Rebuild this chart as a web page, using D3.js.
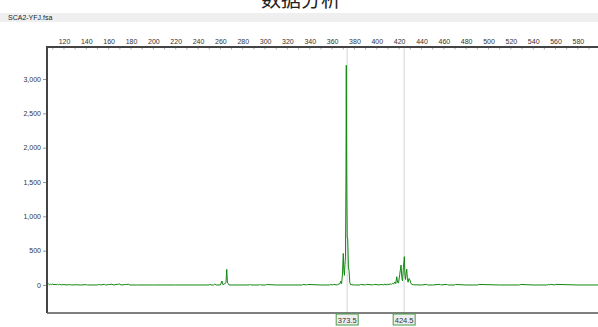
<!DOCTYPE html>
<html>
<head>
<meta charset="utf-8">
<script src="https://cdn.jsdelivr.net/npm/d3@7"></script>
<style>
  body { margin: 0; background: #fff; }
  svg { display: block; font-family: "Liberation Sans", Arial, sans-serif; }
</style>
</head>
<body>
<div class="svg"></div>
<script>
// electropherogram trace: fragment size (bp) and signal (RFU)
var traceSize = [105, 106, 107, 108, 109, 110, 111, 112, 113, 114, 115, 116, 118, 120, 122, 125, 127, 130, 135, 140, 141, 150,
  152, 153, 156, 157, 160, 163, 164, 168, 170, 171, 175, 178, 179, 185, 200, 220, 240, 250, 250.7, 251.5, 254, 255, 256, 260,
  261.4, 262.3, 264, 265, 265.7, 266.3, 267, 267.8, 275, 286, 286.5, 287, 295, 295.5, 296, 300.5, 301, 310, 333.5, 334, 337.3,
  337.8, 350, 357.8, 358.3, 360.8, 361.3, 364.8, 365.3, 367, 367.7, 368.5, 369.3, 370, 370.5, 371, 371.5, 372, 372.4, 372.7,
  373.1, 373.5, 374, 374.6, 375.2, 375.8, 376.5, 380, 385, 385.5, 390, 390.5, 397, 397.5, 403, 403.5, 406, 406.5, 409, 409.5,
  411, 412, 413, 414, 415, 416.3, 417, 417.9, 418.7, 419.5, 420.5, 421.7, 422.4, 423, 423.8, 424.7, 425.2, 425.7, 426.2, 426.8,
  427.4, 428, 428.8, 429.8, 430.6, 431.5, 433, 440, 444.7, 445.2, 450, 456.6, 457.1, 462.9, 463.4, 470, 470.5, 480, 490.6,
  491.1, 510, 528, 528.5, 540, 553, 553.5, 555, 555.5, 559.6, 560.1, 580, 598];
var traceRfu = [6, 16, 3, 12, 4, 14, 3, 11, 2, 12, 3, 9, 2, 7, 1, 5, 0, 3, 0, 5, 0, 0,
  8, 0, 10, 0, 6, 12, 0, 9, 14, 0, 7, 11, 0, 0, 0, 0, 0, 0, 12, 0, 0, 16, 0, 0,
  58, 4, 20, 35, 228, 30, 22, 0, 0, 0, 9, 0, 0, 8, 0, 0, 7, 0, 0, 8, 0,
  8, 0, 0, 7, 0, 9, 0, 10, 18, 55, 20, 160, 460, 210, 140, 300, 410, 1500, 3200,
  1400, 700, 670, 260, 210, 40, 5, 0, 0, 8, 0, 10, 0, 9, 0, 10, 0, 12, 0, 14,
  5, 18, 8, 25, 15, 45, 20, 120, 35, 30, 150, 290, 110, 60, 250, 412, 140, 80, 170, 230,
  90, 40, 95, 70, 20, 10, 3, 0, 9, 0, 0, 10, 0, 9, 0, 0, 8, 0, 0,
  8, 0, 0, 8, 0, 0, 10, 0, 10, 0, 9, 0, 0, 0];

var axisTicksX = [120, 140, 160, 180, 200, 220, 240, 260, 280, 300, 320, 340, 360, 380, 400, 420, 440, 460, 480, 500, 520, 540, 560, 580];
var axisTicksY = [0, 500, 1000, 1500, 2000, 2500, 3000];
var peakCalls = [373.5, 424.5];

var outerWidth = 598;
var outerHeight = 327;
var plot = {left: 47, right: 598, top: 47, bottom: 313};

var x = d3.scaleLinear().domain([104.8, 598]).range([plot.left, plot.right]);
var y = d3.scaleLinear().domain([-408, 3466]).range([plot.bottom, plot.top]);

var outer = d3.select(".svg").append("svg")
  .attr("width", outerWidth)
  .attr("height", outerHeight);

// title, mostly cut off at the top edge (as in the source)
outer.append("text")
  .attr("x", 301)
  .attr("y", 7)
  .attr("text-anchor", "middle")
  .attr("font-family", "Noto Sans CJK SC")
  .attr("font-size", 20)
  .attr("fill", "#222")
  .text("数据分析");

// file name band
outer.append("rect")
  .attr("x", 0).attr("y", 13)
  .attr("width", outerWidth).attr("height", 9)
  .attr("fill", "#efefef");

outer.append("text")
  .attr("x", 8).attr("y", 20)
  .attr("font-size", 7)
  .attr("fill", "#222")
  .text("SCA2-YFJ.fsa");

// peak marker lines
outer.selectAll("line.peak")
  .data(peakCalls)
  .enter().append("line")
  .attr("class", "peak")
  .attr("x1", function(d){ return x(d); })
  .attr("x2", function(d){ return x(d); })
  .attr("y1", plot.top)
  .attr("y2", plot.bottom)
  .attr("stroke", "#e2e2e2")
  .attr("stroke-width", 1.5);

// trace
outer.append("clipPath").attr("id", "clip")
  .append("rect")
  .attr("x", plot.left).attr("y", plot.top)
  .attr("width", plot.right - plot.left).attr("height", plot.bottom - plot.top);

var line = d3.line()
  .x(function(d, i){ return x(traceSize[i]); })
  .y(function(d){ return y(d); });

outer.append("path")
  .attr("d", line(traceRfu))
  .attr("clip-path", "url(#clip)")
  .attr("fill", "none")
  .attr("stroke", "#118811")
  .attr("stroke-width", 1);

// top size axis
var xAxis = d3.axisTop(x)
  .tickValues(axisTicksX)
  .tickSize(0)
  .tickPadding(3);

var gx = outer.append("g")
  .attr("transform", "translate(0," + plot.top + ")")
  .call(xAxis);
gx.select(".domain").remove();
gx.selectAll("text").attr("font-size", 7).attr("fill", "#333");

// minor ticks under the top line
var minor = d3.range(110, 600, 10);
outer.selectAll("line.minor")
  .data(minor)
  .enter().append("line")
  .attr("class", "minor")
  .attr("x1", function(d){ return x(d); })
  .attr("x2", function(d){ return x(d); })
  .attr("y1", plot.top)
  .attr("y2", plot.top + 2.5)
  .attr("stroke", "#999")
  .attr("stroke-width", 0.8);

outer.append("line")
  .attr("x1", plot.left).attr("x2", plot.right)
  .attr("y1", plot.top).attr("y2", plot.top)
  .attr("stroke", "#444").attr("stroke-width", 2);

// left RFU axis
var yAxis = d3.axisLeft(y)
  .tickValues(axisTicksY)
  .tickFormat(d3.format(","))
  .tickSize(3)
  .tickPadding(2);

var gy = outer.append("g")
  .attr("transform", "translate(" + (plot.left - 1) + ",0)")
  .call(yAxis);
gy.select(".domain").remove();
gy.selectAll("line").attr("stroke", "#999");
gy.selectAll("text").attr("font-size", 7).attr("fill", "#333");

outer.append("line")
  .attr("x1", plot.left).attr("x2", plot.left)
  .attr("y1", plot.top - 1).attr("y2", plot.bottom)
  .attr("stroke", "#444").attr("stroke-width", 2);

outer.append("line")
  .attr("x1", plot.left).attr("x2", plot.right)
  .attr("y1", plot.bottom).attr("y2", plot.bottom)
  .attr("stroke", "#555").attr("stroke-width", 1.5);

// size call labels
var calls = outer.selectAll("g.call")
  .data(peakCalls)
  .enter().append("g")
  .attr("class", "call")
  .attr("transform", function(d){ return "translate(" + x(d) + "," + (plot.bottom + 1) + ")"; });

calls.append("rect")
  .attr("x", -11).attr("y", 0)
  .attr("width", 22).attr("height", 11)
  .attr("fill", "#eeeeee")
  .attr("stroke", "#4a9e4a")
  .attr("stroke-width", 1);

calls.append("text")
  .attr("y", 8.5)
  .attr("text-anchor", "middle")
  .attr("font-size", 7.5)
  .attr("fill", "#333")
  .text(function(d){ return d; });
</script>
</body>
</html>
